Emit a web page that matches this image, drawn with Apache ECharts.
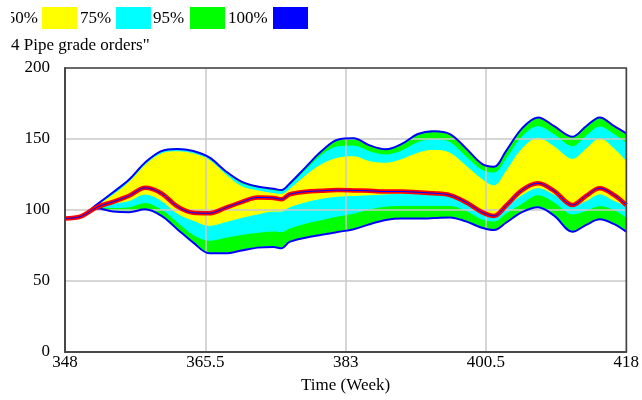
<!DOCTYPE html>
<html>
<head>
<meta charset="utf-8">
<script src="https://cdn.jsdelivr.net/npm/echarts@6/dist/echarts.min.js"></script>
<style>
html,body{margin:0;padding:0;background:#fff;}
#chart{width:642px;height:400px;}
</style>
</head>
<body>
<div id="chart"></div>
<script>
// Time (Week)
const times = [348, 350, 352, 354, 356, 358, 360, 362, 364, 366, 368, 370, 372, 374, 375, 376, 378, 380, 382, 384, 386, 388, 390, 392, 394, 396, 398, 400, 401.5, 403, 405, 407, 409, 411.3, 413, 414.7, 416.5, 418];
// current run
const current = [94, 95.5, 102, 105.8, 110, 115.6, 111.8, 102.5, 98, 97.7, 101.5, 105.5, 108.8, 108.5, 107.5, 111, 112.9, 113.5, 114, 113.8, 113.5, 113, 113, 112.5, 111.8, 110.5, 105.5, 98.5, 95.8, 103, 114, 118.8, 113.5, 103.5, 110, 115.3, 110.5, 103.5];
// confidence bounds
const hi100 = [94, 96, 104, 112.5, 121.5, 133.5, 141.5, 143, 141.5, 137, 127.5, 120, 116.5, 115, 114, 118.5, 130, 141.5, 149.5, 150.5, 145.5, 142.7, 146.5, 153.5, 155.5, 153.5, 143.5, 132.5, 130.5, 141.5, 157.5, 165.2, 159, 151.6, 159, 165.2, 159, 154];
const hi75 = [94, 96, 103.5, 111.5, 120.5, 132.5, 140.5, 142, 140.5, 136, 126.5, 118.5, 115.5, 113.5, 112.8, 117, 128, 138.5, 144.5, 145, 141, 138.7, 141.5, 147.5, 149.5, 147.5, 137.5, 128, 126, 135.5, 151.5, 158.7, 153, 144.6, 152, 158.5, 153, 147];
const hi50 = [94, 96, 103, 110.5, 119.5, 131.5, 139.5, 141, 139.5, 135, 125, 116.5, 113.5, 111.5, 111, 114.5, 124, 132, 136.5, 137.5, 134, 132.9, 135.5, 140, 142, 140, 131, 121.5, 117, 127, 143, 150.5, 144.5, 135.7, 143, 150, 143, 134];
const lo50 = [94, 95.5, 102, 104, 106, 110.5, 106, 97, 92, 88.5, 91, 94, 96.5, 98.5, 98.5, 101.5, 105, 107.5, 109, 109.5, 110, 110.6, 111, 111, 110.5, 109, 104.5, 97.5, 94.5, 101.5, 110, 115, 110.5, 102.5, 106, 110.6, 106, 102.5];
const lo75 = [94, 95.5, 101.5, 101, 101.5, 104.5, 100, 91, 82, 78, 80, 82, 83.5, 84.5, 84, 86.5, 90, 92.5, 95, 97, 100, 102, 102.5, 102.5, 102.5, 102.5, 99, 93, 91.5, 97, 104, 110, 105, 96.5, 99, 102.3, 99.5, 94.1];
const lo100 = [94, 95.5, 101, 99, 98.5, 100.5, 96, 86.5, 77, 69.5, 69.5, 71.5, 73.5, 74, 73, 77.5, 80.5, 82.5, 84.5, 86.5, 90, 93, 94, 94, 94.3, 94.8, 92, 87.5, 85.9, 91, 98.5, 101.9, 96, 84.7, 89.5, 93.4, 90, 84.7];
// legend
const legendLabels = ['50%', '75%', '95%', '100%'];
const legendColors = ['#ffff00', '#00ffff', '#00ff00', '#0000ff'];
const titleText = '4 Pipe grade orders"';
const xTicks = [348, 365.5, 383, 400.5, 418];
const yTicks = [0, 50, 100, 150, 200];

const FONT = '"Liberation Serif", "Times New Roman", serif';
const SM = 0.35;

function pairs(a) { return times.map((t, i) => [t, a[i]]); }

// filled area from the x axis up to the curve; painted in order (outer first)
function fill(name, arr, color) {
  return {
    name: name, type: 'line', data: pairs(arr), smooth: SM, z: 2,
    symbol: 'none', silent: true,
    lineStyle: { color: color, width: 1 },
    areaStyle: { color: color, opacity: 1, origin: 'start' }
  };
}
function edge(name, arr, color, w) {
  return {
    name: name, type: 'line', data: pairs(arr), smooth: SM, symbol: 'none', silent: true, z: 6,
    lineStyle: { color: color, width: w }
  };
}

const chart = echarts.init(document.getElementById('chart'), null, { renderer: 'canvas' });

const legendGraphics = [];
const swatchX = [42, 116, 190, 273];
const labelX = [38, 80, 153, 228];
legendLabels.forEach((lab, i) => {
  legendGraphics.push({
    type: 'text', x: labelX[i], y: 19, z: 10,
    style: { text: lab, fill: '#000', font: '17px ' + FONT, textAlign: i === 0 ? 'right' : 'left', textVerticalAlign: 'middle' }
  });
  legendGraphics.push({
    type: 'rect', x: swatchX[i], y: 7, z: 10,
    shape: { width: 35, height: 22 },
    style: { fill: legendColors[i] }
  });
});
legendGraphics.push({ type: 'rect', x: 0, y: 0, z: 11, shape: { width: 11, height: 34 }, style: { fill: '#fff' } });
legendGraphics.push({
  type: 'text', x: 11, y: 46, z: 10,
  style: { text: titleText, fill: '#000', font: '17px ' + FONT, textVerticalAlign: 'middle' }
});

chart.setOption({
  animation: false,
  backgroundColor: '#fff',
  graphic: legendGraphics,
  grid: { left: 65, right: 13, top: 68, bottom: 48, show: true, z: 8, borderColor: '#444', borderWidth: 1.5, backgroundColor: 'transparent' },
  xAxis: {
    type: 'value', min: xTicks[0], max: xTicks[xTicks.length - 1], interval: 17.5, z: 4,
    name: 'Time (Week)', nameLocation: 'middle', nameGap: 25,
    nameTextStyle: { color: '#000', fontFamily: FONT, fontSize: 17 },
    axisLine: { show: true, onZero: false, lineStyle: { color: '#555', width: 2 } },
    axisTick: { show: false },
    axisLabel: { color: '#000', fontFamily: FONT, fontSize: 17, margin: 2, showMinLabel: true, showMaxLabel: true },
    splitLine: { show: true, lineStyle: { color: '#c8c8c8', width: 1.5 } }
  },
  yAxis: {
    type: 'value', min: yTicks[0], max: yTicks[yTicks.length - 1], interval: 50, z: 4,
    axisLine: { show: true, lineStyle: { color: '#555', width: 2 } },
    axisTick: { show: false },
    axisLabel: { color: '#000', fontFamily: FONT, fontSize: 17, margin: 15 },
    splitLine: { show: true, lineStyle: { color: '#c8c8c8', width: 1.5 } }
  },
  series: [
    fill('95% high', hi100, '#00ff00'),
    fill('75% high', hi75, '#00ffff'),
    fill('50% high', hi50, '#ffff00'),
    fill('50% low', lo50, '#00ffff'),
    fill('75% low', lo75, '#00ff00'),
    fill('100% low', lo100, '#ffffff'),
    edge('100% high edge', hi100, '#0000ff', 2),
    edge('100% low edge', lo100, '#0000ff', 2),
    edge('current', current, '#ff0000', 4.5),
    edge('current core', current, '#0000ff', 1)
  ]
});
</script>
</body>
</html>
